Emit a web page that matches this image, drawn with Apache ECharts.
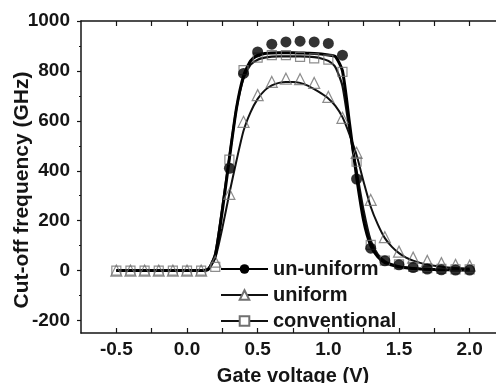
<!DOCTYPE html>
<html>
<head>
<meta charset="utf-8">
<script src="https://cdn.jsdelivr.net/npm/echarts@6/dist/echarts.min.js"></script>
<style>
  html, body { margin: 0; padding: 0; background: #fff; }
  #chart { width: 496px; height: 383px; }
</style>
</head>
<body>
<div id="chart"></div>
<script>
// Gate voltage of the measured points (V)
const markX = [-0.5, -0.4, -0.3, -0.2, -0.1, 0.0, 0.1, 0.2, 0.3, 0.4, 0.5, 0.6, 0.7,
  0.8, 0.9, 1.0, 1.1, 1.2, 1.3, 1.4, 1.5, 1.6, 1.7, 1.8, 1.9, 2.0];

// Cut-off frequency of the measured points (GHz)
const unUniformMarks = [null, null, null, null, null, null, null, null, 410, 790, 876, 907, 916,
  919, 916, 910, 863, 367, 90, 39, 23, 12, 6, 3, 2, 2];
const uniformMarks = [0, 0, 0, 0, 0, 0, 0, 36, 307, 596, 703, 756, 769,
  767, 752, 696, 612, 472, 283, 134, 76, 52, 39, 30, 23, 20];
const conventionalMarks = [0, 0, 0, 0, 0, 0, 0, 15, 445, 803, 853, 863, 863,
  856, 850, 845, 796, 436, 103, 40, 25, 15, 10, 7, 5, 5];

// Fitted curves
const fitX = [-0.5, -0.45, -0.4, -0.35, -0.3, -0.25, -0.2, -0.15, -0.1, -0.05, 0.0, 0.05, 0.1,
  0.15, 0.2, 0.25, 0.3, 0.35, 0.4, 0.45, 0.5, 0.55, 0.6, 0.65, 0.7, 0.75, 0.8, 0.85, 0.9, 0.95,
  1.0, 1.05, 1.1, 1.15, 1.2, 1.25, 1.3, 1.35, 1.4, 1.45, 1.5, 1.55, 1.6, 1.65, 1.7, 1.75, 1.8,
  1.85, 1.9, 1.95, 2.0];
const unUniformFit = [0, 0, 0, 0, 0, 0, 0, 0, 0, 0, 0, 0, 0,
  5, 60, 240, 450, 650, 780, 840, 862, 870, 872, 873, 873, 873, 872, 871, 870, 868,
  864, 858, 800, 590, 375, 200, 100, 55, 32, 22, 15, 11, 8, 6, 5, 4, 3,
  3, 2, 2, 2];
const uniformFit = [0, 0, 0, 0, 0, 0, 0, 0, 0, 0, 0, 0, 0,
  8, 50, 170, 310, 440, 560, 635, 688, 722, 742, 752, 756, 756, 752, 742, 727, 710,
  690, 660, 615, 545, 463, 355, 256, 185, 130, 95, 70, 52, 40, 31, 24, 19, 15,
  12, 10, 9, 8];
const conventionalFit = [0, 0, 0, 0, 0, 0, 0, 0, 0, 0, 0, 0, 0,
  5, 70, 255, 455, 650, 770, 825, 845, 853, 857, 858, 858, 858, 858, 857, 855, 850,
  840, 815, 740, 560, 400, 240, 120, 65, 38, 25, 17, 12, 9, 7, 5, 4, 4,
  3, 3, 2, 2];

// Axis ticks
const xLabels = [-0.5, 0.0, 0.5, 1.0, 1.5, 2.0];
const xTicks = [-0.5, -0.25, 0.0, 0.25, 0.5, 0.75, 1.0, 1.25, 1.5, 1.75, 2.0];
const yLabels = [-200, 0, 200, 400, 600, 800, 1000];
const yMinorTicks = [-100, 100, 300, 500, 700, 900];

const FONT = "Liberation Sans";
const INK = "#151515";
const MARK_EDGE = "#707070";

const pairs = (xs, ys) => xs.map((x, i) => [x, ys[i]]);

const chart = echarts.init(document.getElementById("chart"));

const xCommon = {
  type: "value",
  min: -0.75,
  max: 2.25,
  splitLine: { show: false },
  axisLine: { show: true, onZero: false, lineStyle: { color: INK, width: 1.5 } },
  axisTick: { show: true, inside: true, length: 5, customValues: xTicks, lineStyle: { color: INK, width: 1.2 } },
};

const option = {
  animation: false,
  backgroundColor: "#fff",
  grid: { left: 81, right: -9, top: 21, bottom: 50, containLabel: false, outerBoundsMode: "none" },
  xAxis: [
    {
      ...xCommon,
      position: "bottom",
      name: "Gate voltage (V)",
      nameLocation: "middle",
      nameGap: 33,
      nameMoveOverlap: false,
      nameTextStyle: { fontFamily: FONT, fontWeight: "bold", fontSize: 20, color: INK },
      axisLabel: {
        customValues: xLabels,
        margin: 7,
        fontFamily: FONT, fontWeight: "bold", fontSize: 19, color: INK,
        formatter: (v) => v.toFixed(1),
      },
    },
    {
      ...xCommon,
      position: "top",
      axisLabel: { show: false },
    },
  ],
  yAxis: [
    {
      type: "value",
      min: -250,
      max: 1000,
      splitLine: { show: false },
      axisLine: { show: true, onZero: false, lineStyle: { color: INK, width: 1.5 } },
      axisTick: { show: true, inside: false, length: 4, customValues: yLabels, lineStyle: { color: INK, width: 1.2 } },
      name: "Cut-off frequency (GHz)",
      nameLocation: "middle",
      nameGap: 48,
      nameMoveOverlap: false,
      nameTextStyle: { fontFamily: FONT, fontWeight: "bold", fontSize: 21, color: INK, padding: [0, 26, 0, 0] },
      axisLabel: {
        customValues: yLabels,
        margin: 11,
        fontFamily: FONT, fontWeight: "bold", fontSize: 19, color: INK,
        formatter: (v) => String(v),
      },
    },
    {
      type: "value",
      position: "left",
      min: -250,
      max: 1000,
      splitLine: { show: false },
      axisLine: { show: false, onZero: false },
      axisTick: { show: true, inside: false, length: 2, customValues: yMinorTicks, lineStyle: { color: INK, width: 1.2 } },
      axisLabel: { show: false },
    },
  ],
  legend: {
    orient: "vertical",
    left: 220,
    top: 259,
    itemWidth: 47,
    itemHeight: 12,
    itemGap: 6,
    padding: 0,
    data: ["un-uniform", "uniform", "conventional"],
    textStyle: { fontFamily: FONT, fontWeight: "bold", fontSize: 20, color: INK },
  },
  series: [
    {
      name: "un-uniform",
      type: "line",
      data: pairs(fitX, unUniformFit),
      smooth: 0.2,
      symbol: "circle",
      showSymbol: false,
      lineStyle: { color: "#000", width: 3 },
      itemStyle: { color: "#000" },
      z: 3,
    },
    {
      name: "uniform",
      type: "line",
      data: pairs(fitX, uniformFit),
      smooth: 0.2,
      symbol: "triangle",
      showSymbol: false,
      lineStyle: { color: "#111", width: 2 },
      itemStyle: { color: "#fff", borderColor: MARK_EDGE, borderWidth: 1.2 },
      z: 2,
    },
    {
      name: "conventional",
      type: "line",
      data: pairs(fitX, conventionalFit),
      smooth: 0.2,
      symbol: "rect",
      showSymbol: false,
      lineStyle: { color: "#111", width: 2.2 },
      itemStyle: { color: "#fff", borderColor: MARK_EDGE, borderWidth: 1.2 },
      z: 2,
    },
    {
      name: "conventional marks",
      type: "scatter",
      data: pairs(markX, conventionalMarks),
      symbol: "rect",
      symbolSize: 9,
      itemStyle: { color: "rgba(255,255,255,0)", borderColor: MARK_EDGE, borderWidth: 1.2 },
      z: 4,
    },
    {
      name: "uniform marks",
      type: "scatter",
      data: pairs(markX, uniformMarks),
      symbol: "triangle",
      symbolSize: 11,
      itemStyle: { color: "rgba(255,255,255,0)", borderColor: MARK_EDGE, borderWidth: 1.2 },
      z: 4,
    },
    {
      name: "un-uniform marks",
      type: "scatter",
      data: pairs(markX, unUniformMarks),
      symbol: "circle",
      symbolSize: 11,
      itemStyle: { color: "#000" },
      z: 5,
    },
  ],
};

chart.setOption(option);
</script>
</body>
</html>
